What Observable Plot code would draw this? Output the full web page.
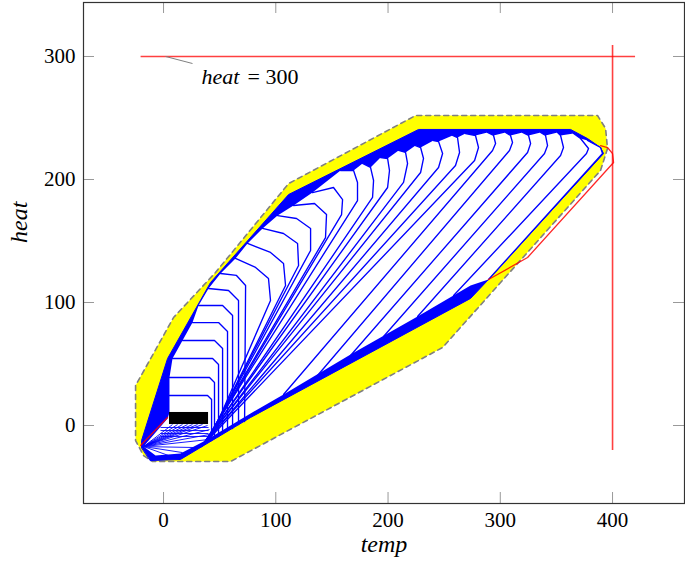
<!DOCTYPE html>
<html><head><meta charset="utf-8">
<script src="https://cdn.jsdelivr.net/npm/d3@7"></script>
<script src="https://cdn.jsdelivr.net/npm/@observablehq/plot@0.6"></script>
<style>body{margin:0;background:#fff} #chart svg{display:block}</style>
</head><body><div id="chart"></div>
<script>
const xTicks = [0, 100, 200, 300, 400];
const yTicks = [0, 100, 200, 300];
const xDomain = [-71.3, 464.1];
const yDomain = [-63.4, 343.9];

const yellowHull = [[-24.9,32.5],[-24.9,-12.2],[-17.8,-24.4],[-9.8,-29.3],[59.7,-29.3],[248.6,63.4],[389.3,207.3],[395.5,225.2],[393.8,241.5],[386.6,252.0],[224.5,252.0],[111.4,196.7],[46.3,124.4],[8.9,87.8]];

const blueHull = [[-19.6,-17.9],[-19.6,-12.2],[3.6,54.5],[41.9,116.3],[111.4,187.8],[227.2,240.7],[362.6,240.7],[377.7,233.3],[389.3,226.0],[392.0,221.1],[289.5,118.7],[273.5,103.3],[77.5,6.5],[15.1,-27.6],[-11.6,-28.5]];

const whiteRegion = [[-17.8,-17.1],[3.6,5.7],[5.3,10.6],[5.3,24.4],[5.3,39.0],[8.0,54.5],[16.9,69.1],[25.8,83.7],[31.2,97.6],[40.1,111.4],[50.8,123.6],[64.1,135.8],[74.8,148.0],[88.2,160.2],[101.6,170.7],[115.8,178.9],[132.7,189.4],[157.7,207.3],[169.3,207.3],[177.3,213.0],[184.4,209.8],[193.3,217.9],[199.6,217.1],[209.4,223.6],[215.6,222.0],[224.5,227.6],[229.0,226.0],[240.5,231.7],[245.0,230.9],[257.5,235.8],[261.9,234.1],[269.0,237.4],[277.9,235.8],[288.6,238.2],[294.0,235.8],[304.7,238.2],[309.1,235.8],[319.8,238.2],[325.2,235.8],[335.9,238.2],[340.3,235.8],[351.0,238.2],[353.7,235.8],[365.3,237.4],[371.5,233.3],[377.7,231.7],[389.3,226.0],[391.1,221.1],[289.5,118.7],[273.5,113.8],[226.3,88.6],[166.6,57.7],[106.9,25.2],[77.5,9.8],[55.2,-2.4],[37.4,-12.2],[15.1,-22.8],[-7.1,-24.4]];

const boxCurves = [
  [[5.3,24.4],[39.2,24.4],[42.8,21.1],[42.8,-12.2]],
  [[5.3,39.0],[41.0,39.0],[45.4,35.0],[45.4,-10.6]],
  [[8.0,54.5],[43.7,54.5],[49.0,49.6],[49.0,-8.9]],
  [[16.9,69.1],[45.4,69.1],[52.6,62.6],[52.6,-6.5]],
  [[25.8,83.7],[49.0,83.7],[57.0,76.4],[57.0,-4.1]],
  [[31.2,97.6],[52.6,97.6],[61.5,89.4],[61.5,-2.4]],
  [[40.1,111.4],[57.9,109.8],[66.8,101.6],[66.8,0.8]],
  [[50.8,123.6],[65.0,122.0],[73.1,113.8],[72.2,3.3]]
];

const bandCurves = [
  [[64.1,135.8],[82.0,128.5],[93.5,119.5],[95.3,101.6],[41.9,-10.6]],
  [[74.8,148.0],[95.3,140.7],[106.9,131.7],[108.7,113.8],[40.1,-11.4]],
  [[88.2,160.2],[106.9,156.1],[119.4,148.0],[120.3,130.1],[39.2,-12.2]],
  [[101.6,170.7],[118.5,168.3],[131.0,160.2],[131.0,142.3],[38.3,-13.0]],
  [[115.8,178.9],[134.5,180.5],[145.2,171.5],[144.3,152.8],[37.4,-13.0]],
  [[132.7,189.4],[151.4,193.5],[159.5,183.7],[158.6,171.5],[37.4,-13.8]],
  [[157.7,207.3],[169.3,207.3],[172.8,197.6],[172.8,182.9],[36.5,-13.8]],
  [[177.3,213.0],[184.4,209.8],[187.1,199.2],[186.2,185.4],[36.5,-14.6]],
  [[193.3,217.9],[199.6,217.1],[201.3,207.3],[199.6,193.5],[35.6,-14.6]],
  [[209.4,223.6],[215.6,222.0],[217.4,213.0],[213.8,197.6],[35.6,-15.4]],
  [[224.5,227.6],[229.0,226.0],[231.6,217.1],[229.0,205.7],[34.7,-15.4]],
  [[240.5,231.7],[245.0,230.9],[248.6,221.1],[245.0,209.8],[34.7,-16.3]],
  [[257.5,235.8],[261.9,234.1],[263.7,222.0],[260.1,211.4],[33.9,-16.3]],
  [[269.0,237.4],[277.9,235.8],[280.6,226.0],[277.1,215.4],[33.9,-17.1]],
  [[288.6,238.2],[294.0,235.8],[295.8,229.3],[293.1,223.6],[106.9,25.2]],
  [[304.7,238.2],[309.1,235.8],[310.9,230.1],[308.2,223.6],[137.2,40.7]],
  [[319.8,238.2],[325.2,235.8],[327.0,229.3],[324.3,222.0],[166.6,56.9]],
  [[335.9,238.2],[340.3,235.8],[342.1,227.6],[339.4,221.1],[196.0,72.4]],
  [[351.0,238.2],[353.7,235.8],[356.3,226.0],[353.7,219.5],[226.3,88.6]],
  [[365.3,237.4],[371.5,233.3],[378.6,225.2],[376.8,221.1],[258.4,105.7]],
  [[377.7,231.7],[389.3,226.0],[391.1,221.1],[289.5,118.7]]
];

const fanOrigin = [-17.8,-17.1];
const fanTargets = [[8.0,0.8],[12.5,0.8],[16.9,0.8],[21.4,0.8],[25.8,0.8],[30.3,0.8],[34.7,0.8],[39.2,0.0],[41.0,-3.3],[41.0,-7.3],[40.1,-11.4],[28.5,-17.9],[16.9,-22.0],[4.5,-24.4]];
const hatchLevels = [-1.6,-4.1,-6.5,-8.9];
const hatchSpan = [-2.7, 40.1];

const blackBox = {x1: 5.3, x2: 40.1, y1: 0.8, y2: 10.6};

const heatLevel = 300;
const heatSpan = [-20, 420.5];
const tempLevel = 400;
const tempSpan = [-20.3, 308.9];
const redStart = [[-20.5,-16.3],[3.6,6.5]];
const redPath = [[289.5,118.7],[324.3,136.6],[400.9,213.8],[400.0,221.1],[395.5,226.0],[389.3,227.6]];

const pin = {x1: 1.8, y1: 300, x2: 25.8, y2: 294.3};
const annot = {x: 33.9, y: 283.7, name: "heat", rest: "= 300"};

const serif = "Liberation Serif";
const P = (arr) => arr.map(([x, y]) => ({x, y}));
const curveRows = [...boxCurves, ...bandCurves].flatMap((pts, i) => pts.map(([x, y]) => ({x, y, id: i})));
const redRows = [redStart, redPath].flatMap((pts, i) => pts.map(([x, y]) => ({x, y, id: i})));

const innerW = 685 - 83 - 1, innerH = 564 - 2 - 61;

const chart = Plot.plot({
  width: 685, height: 564,
  marginLeft: 83, marginRight: 1, marginTop: 2, marginBottom: 61,
  x: {domain: xDomain},
  y: {domain: yDomain},
  style: {fontFamily: serif, fontSize: "20px", background: "#fff", color: "#000"},
  marks: [
    Plot.line(P(yellowHull), {x: "x", y: "y", curve: "linear-closed", fill: "#ffff00", stroke: "#808080", strokeWidth: 1.6, strokeDasharray: "5,4"}),
    Plot.line(P(blueHull), {x: "x", y: "y", curve: "linear-closed", fill: "#0000ff", stroke: "#0000ff", strokeWidth: 1}),
    Plot.line(P(whiteRegion), {x: "x", y: "y", curve: "linear-closed", fill: "#ffffff", stroke: "none"}),
    Plot.link(fanTargets, {x1: () => fanOrigin[0], y1: () => fanOrigin[1], x2: d => d[0], y2: d => d[1], stroke: "#0000ff", strokeWidth: 0.9}),
    Plot.link(hatchLevels, {x1: () => hatchSpan[0], x2: () => hatchSpan[1], y1: d => d, y2: d => d, stroke: "#0000ff", strokeWidth: 0.9}),
    Plot.line(curveRows, {x: "x", y: "y", z: "id", stroke: "#0000ff", strokeWidth: 1.35, strokeLinejoin: "round"}),
    Plot.rect([blackBox], {x1: "x1", x2: "x2", y1: "y1", y2: "y2", fill: "#000"}),
    Plot.ruleY([heatLevel], {x1: () => heatSpan[0], x2: () => heatSpan[1], stroke: "#ff0000", strokeOpacity: 0.75, strokeWidth: 1.6}),
    Plot.ruleX([tempLevel], {y1: () => tempSpan[0], y2: () => tempSpan[1], stroke: "#ff0000", strokeOpacity: 0.75, strokeWidth: 1.6}),
    Plot.line(redRows, {x: "x", y: "y", z: "id", stroke: "#ff0000", strokeOpacity: 0.85, strokeWidth: 1.3}),
    Plot.link([pin], {x1: "x1", y1: "y1", x2: "x2", y2: "y2", stroke: "#808080", strokeWidth: 1}),
    Plot.text([annot], {x: "x", y: "y", text: "name", textAnchor: "start", fontFamily: serif, fontStyle: "italic", fontSize: 22, fill: "#000"}),
    Plot.text([annot], {x: "x", y: "y", text: "rest", textAnchor: "start", dx: 46, fontFamily: serif, fontSize: 22, fill: "#000"}),
    Plot.ruleX(xTicks, {x: d => d, insetTop: innerH - 11, stroke: "#999", strokeWidth: 1}),
    Plot.ruleX(xTicks, {x: d => d, insetBottom: innerH - 11, stroke: "#999", strokeWidth: 1}),
    Plot.ruleY(yTicks, {y: d => d, insetRight: innerW - 11, stroke: "#999", strokeWidth: 1}),
    Plot.ruleY(yTicks, {y: d => d, insetLeft: innerW - 11, stroke: "#999", strokeWidth: 1}),
    Plot.frame({stroke: "#333", strokeWidth: 1.2}),
    Plot.axisX({ticks: xTicks, tickSize: 0, tickPadding: 9, fontSize: 21, fontFamily: serif, label: null}),
    Plot.axisY({ticks: yTicks, tickSize: 0, tickPadding: 8, fontSize: 21, fontFamily: serif, label: null}),
    Plot.text(["temp"], {frameAnchor: "bottom", dy: 48, text: d => d, fontFamily: serif, fontStyle: "italic", fontSize: 24, fill: "#000"}),
    Plot.text(["heat"], {frameAnchor: "left", dx: -64, dy: -10, rotate: -90, text: d => d, fontFamily: serif, fontStyle: "italic", fontSize: 24, fill: "#000"})
  ]
});
document.getElementById("chart").appendChild(chart);
</script>
</body></html>
